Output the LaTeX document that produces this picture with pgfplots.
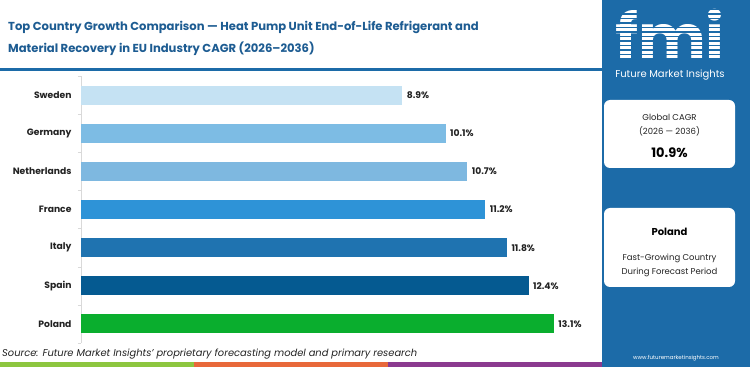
\documentclass[border=0pt]{standalone}
\usepackage{pgfplots}
\pgfplotsset{compat=1.18}
\usepackage{fontspec}
\setmainfont{Poppins}
\definecolor{panel}{HTML}{1C6BA8}
\definecolor{titleblue}{HTML}{1D5C92}
\definecolor{cSwe}{HTML}{C5E2F3}
\definecolor{cGer}{HTML}{7DBCE4}
\definecolor{cNet}{HTML}{7EB8E0}
\definecolor{cFra}{HTML}{2E93D7}
\definecolor{cIta}{HTML}{1F73B0}
\definecolor{cSpa}{HTML}{055A91}
\definecolor{cPol}{HTML}{0AAE2E}
\definecolor{sGreen}{HTML}{8DC63F}
\definecolor{sOrange}{HTML}{E8683A}
\definecolor{sPurple}{HTML}{8B3A8F}
\definecolor{txt}{HTML}{222222}
\begin{document}
\begin{tikzpicture}
\begin{scope}[x=1pt,y=1pt]
\fill[white] (0,0) rectangle (750,367);
\fill[panel] (602,0) rectangle (750,367);
% title
\node[anchor=north west, align=left, text=titleblue, font=\fontsize{11.6}{22}\selectfont\bfseries, inner sep=0] at (8,346)
 {Top Country Growth Comparison — Heat Pump Unit End-of-Life Refrigerant and\\Material Recovery in EU Industry CAGR (2026–2036)};
\fill[panel] (0,295.5) rectangle (602,298.5);
% bottom stripe
\fill[sGreen] (0,0) rectangle (194,5);
\fill[sOrange] (194,0) rectangle (388,5);
\fill[sPurple] (388,0) rectangle (602,5);
\node[anchor=west, text=txt, font=\fontsize{9.9}{11}\selectfont\itshape, inner sep=0] at (2,13) {Source: Future Market Insights’ proprietary forecasting model and primary research};
% logo
\node[anchor=base, text=white, font=\fontsize{64}{64}\selectfont\bfseries, inner sep=0, text depth=0pt] at (670,306) {fmi};
\foreach \yy in {308,312.5,...,361} {\draw[panel, line width=1.1pt] (606,\yy) -- (740,\yy);}
\node[text=white, font=\fontsize{10}{12}\selectfont, inner sep=0] at (670,292) {Future Market Insights};
% boxes
\fill[white, rounded corners=6pt] (604,199) rectangle (735,267);
\node[text=txt, font=\fontsize{8.5}{10}\selectfont, inner sep=0] at (669.5,250) {Global CAGR};
\node[text=txt, font=\fontsize{8.5}{10}\selectfont, inner sep=0] at (669.5,236) {(2026 — 2036)};
\node[text=black, font=\fontsize{13}{14}\selectfont\bfseries, inner sep=0] at (669.5,214) {10.9\%};
\fill[white, rounded corners=6pt] (604,80) rectangle (735,159);
\node[text=black, font=\fontsize{10}{12}\selectfont\bfseries, inner sep=0] at (669.5,135) {Poland};
\node[text=txt, font=\fontsize{8.5}{10}\selectfont, inner sep=0] at (669.5,109) {Fast-Growing Country};
\node[text=txt, font=\fontsize{8.5}{10}\selectfont, inner sep=0] at (669.5,95) {During Forecast Period};
\node[text=white, font=\fontsize{5.5}{6}\selectfont, inner sep=0] at (676,9) {www.futuremarketinsights.com};
\end{scope}
% chart
\begin{axis}[at={(81pt,24pt)}, anchor=south west, width=509pt, height=267pt, scale only axis,
  xmin=0, xmax=14.1, ymin=-0.5, ymax=6.5, y dir=reverse,
  xbar, bar width=19pt, bar shift=0pt,
  axis x line=none, axis y line=left, axis line style={-, draw=black!15},
  ytick={0,...,6}, yticklabels={Sweden,Germany,Netherlands,France,Italy,Spain,Poland},
  major tick length=0pt,
  minor ytick={-0.5,0.5,...,6.5}, minor tick length=3pt, tick align=outside,
  minor tick style={draw=black!15},
  /pgf/number format/assume math mode=true,
  yticklabel style={font=\fontsize{9.2}{10}\selectfont\bfseries, text=txt, xshift=-6pt},
  nodes near coords={\pgfmathprintnumber[fixed,precision=1,fixed zerofill]{\pgfplotspointmeta}\%},
  nodes near coords style={font=\fontsize{9.2}{10}\selectfont\bfseries, text=txt, anchor=west, xshift=1pt},
  clip=false]
\addplot[fill=cSwe, draw=none] coordinates {(8.9,0)};
\addplot[fill=cGer, draw=none] coordinates {(10.1,1)};
\addplot[fill=cNet, draw=none] coordinates {(10.7,2)};
\addplot[fill=cFra, draw=none] coordinates {(11.2,3)};
\addplot[fill=cIta, draw=none] coordinates {(11.8,4)};
\addplot[fill=cSpa, draw=none] coordinates {(12.4,5)};
\addplot[fill=cPol, draw=none] coordinates {(13.1,6)};
\end{axis}
\end{tikzpicture}
\end{document}
